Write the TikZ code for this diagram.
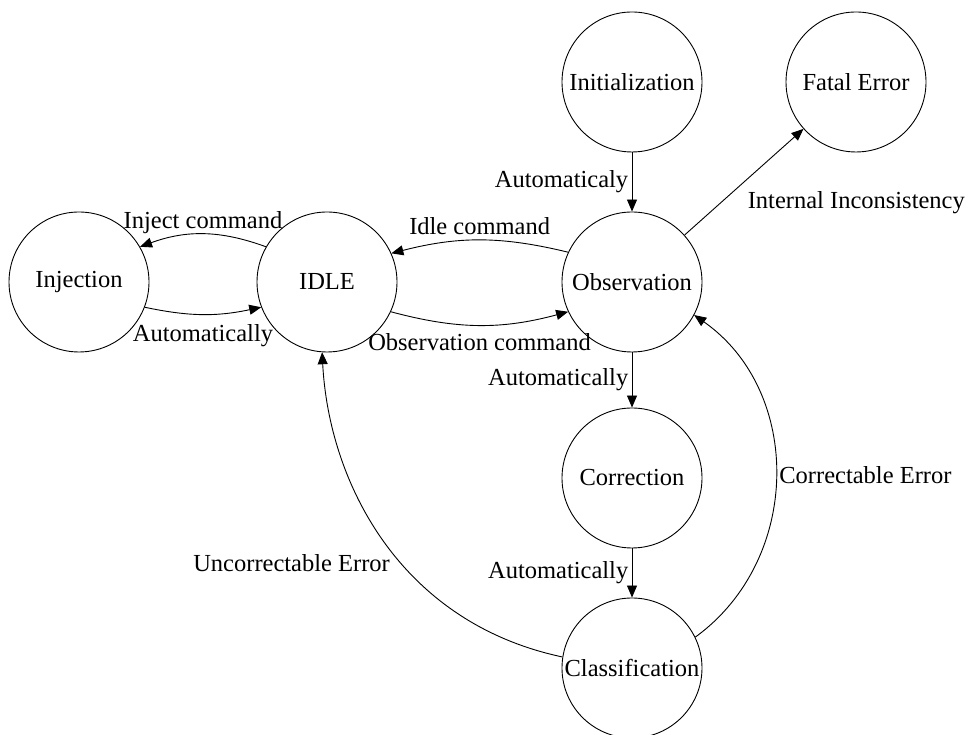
\documentclass[tikz,border=0pt]{standalone}
\usepackage{fontspec}
\setmainfont{Liberation Serif}
\usetikzlibrary{arrows.meta}

\begin{document}
\begin{tikzpicture}[x=1pt, y=1pt,
    font=\fontsize{24.5}{29}\selectfont,
    state/.style={circle, draw, line width=0.9pt, minimum size=140pt, inner sep=0pt},
    trans/.style={-{Triangle[length=12pt,width=10pt]}, line width=0.9pt},
    lbl/.style={text depth=0.22em}]
    \useasboundingbox (0,0) rectangle (970,735);
    % states
    \node[state] (inj) at (79,453) {Injection};
    \node[state] (idle) at (327,453) {IDLE};
    \node[state] (obs) at (632,453) {Observation};
    \node[state] (init) at (632,653) {Initialization};
    \node[state] (fatal) at (856,653) {Fatal Error};
    \node[state] (corr) at (632,257) {Correction};
    \node[state] (clas) at (632,67) {Classification};
    % idle <-> injection
    \draw[trans] (idle.150) to[bend right=20] node[lbl, above] {Inject command} (inj.30);
    \draw[trans] (inj.-21) to[bend right=12] node[below=6pt] {Automatically} (idle.201);
    % idle <-> observation
    \draw[trans] (obs.155) to[bend right=14] node[lbl, above] {Idle command} (idle.24);
    \draw[trans] (idle.-25) to[bend right=15] node[below=5pt] {Observation command} (obs.205);
    % straight transitions
    \draw[trans] (init) -- node[left] {Automaticaly} (obs);
    \draw[trans] (obs) -- node[below right, yshift=-6pt] {Internal Inconsistency} (fatal);
    \draw[trans] (obs) -- node[left] {Automatically} (corr);
    \draw[trans] (corr) -- node[left] {Automatically} (clas);
    % error handling
    \draw[trans] (clas.171) to[out=168, in=-87, out looseness=1.1, in looseness=0.85]
        node[pos=0.42, left, xshift=-10pt, yshift=3pt] {Uncorrectable Error} (idle.266);
    \draw[trans] (clas.26) to[out=36, in=-35, looseness=1.05]
        node[right] {Correctable Error} (obs.-28);
\end{tikzpicture}
\end{document}
